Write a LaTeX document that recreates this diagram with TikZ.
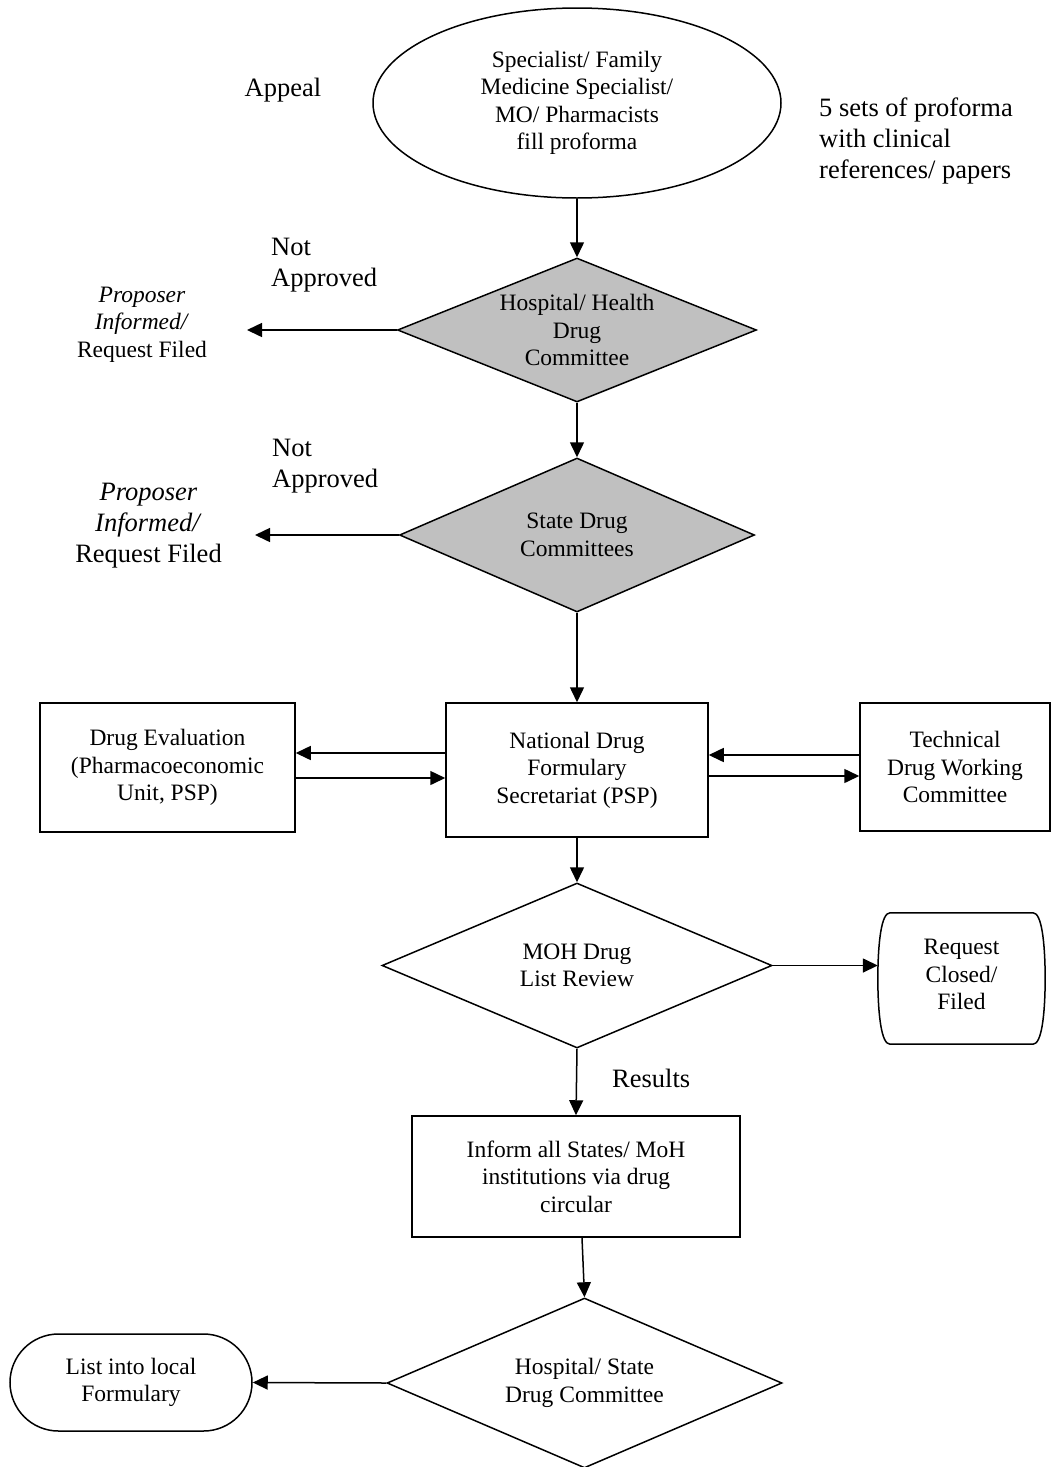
\documentclass[tikz,border=0pt]{standalone}
\usepackage{fontspec}
\setmainfont{Liberation Serif}
\usetikzlibrary{shapes.geometric,shapes.misc,arrows.meta,calc}
\definecolor{grayfill}{RGB}{192,192,192}
\begin{document}
\begin{tikzpicture}[x=1pt,y=-1pt,
  base/.style={font=\fontsize{23.5}{27.5}\selectfont, align=center, inner sep=0pt},
  big/.style={font=\fontsize{26.5}{31}\selectfont},
  ln/.style={line width=1.5pt},
  arr/.style={ln, -{Triangle[length=15pt,width=14pt]}},
  boxnode/.style={base, draw, ln, rectangle},
  dia/.style={base, draw, ln, diamond, inner sep=-30pt},
  graydia/.style={dia, fill=grayfill},
]
\useasboundingbox (0,0) rectangle (1052,1467);

% shapes
\node[base, draw, ln, ellipse, minimum width=408pt, minimum height=190pt] (ell) at (577,103)
  {Specialist/ Family\\Medicine Specialist/\\MO/ Pharmacists\\fill proforma};
\node[graydia, minimum width=359pt, minimum height=144pt] (d1) at (577,330)
  {Hospital/ Health\\Drug\\Committee};
\node[graydia, minimum width=355pt, minimum height=154pt] (d2) at (577,535)
  {State Drug\\Committees};
\node[boxnode, minimum width=262pt, minimum height=134pt] (nd) at (577,770)
  {National Drug\\Formulary\\Secretariat (PSP)};
\node[boxnode, minimum width=255pt, minimum height=129pt] (de) at (167.5,767.5)
  {Drug Evaluation\\(Pharmacoeconomic\\Unit, PSP)};
\node[boxnode, minimum width=190pt, minimum height=128pt] (tw) at (955,767)
  {Technical\\Drug Working\\Committee};
\node[dia, minimum width=390pt, minimum height=165pt] (moh) at (577,965.5)
  {MOH Drug\\List Review};
% Request Closed: rectangle with bulging sides
\node[base, rectangle, minimum width=167pt, minimum height=131pt] (rc) at (961.5,978.5)
  {\\[-20pt]Request\\Closed/\\Filed};
\draw[ln] ([xshift=-71.5pt]rc.north) -- ([xshift=71.5pt]rc.north)
  .. controls ([xshift=80pt]rc.north) and ([xshift=83.5pt,yshift=-28pt]rc.north) .. (rc.east)
  .. controls ([xshift=83.5pt,yshift=28pt]rc.south) and ([xshift=80pt]rc.south) .. ([xshift=71.5pt]rc.south)
  -- ([xshift=-71.5pt]rc.south)
  .. controls ([xshift=-80pt]rc.south) and ([xshift=-83.5pt,yshift=28pt]rc.south) .. (rc.west)
  .. controls ([xshift=-83.5pt,yshift=-28pt]rc.north) and ([xshift=-80pt]rc.north) .. cycle;
\node[boxnode, minimum width=328pt, minimum height=121pt] (inf) at (576,1176.5)
  {Inform all States/ MoH\\institutions via drug\\circular};
\node[dia, minimum width=395pt, minimum height=170pt] (d4) at (584.5,1383)
  {Hospital/ State\\Drug Committee};
\node[base, draw, ln, rounded rectangle, minimum width=242pt, minimum height=97pt] (loc) at (131,1382.5)
  {List into local\\Formulary};

% free texts
\node[base, big] (appeal) at (283,90) {Appeal};
\node[base, big, align=left, anchor=west] (sets) at (819,141)
  {5 sets of proforma\\with clinical\\references/ papers};
\node[base, big, align=left, anchor=west] (na1) at (271,265.5) {Not\\Approved};
\node[base] (pi1) at (142,324.5) {\textit{Proposer}\\\textit{Informed/}\\Request Filed};
\node[base, big, align=left, anchor=west] (na2) at (272,466.5) {Not\\Approved};
\node[base, big] (pi2) at (148.5,525.5) {\textit{Proposer}\\\textit{Informed/}\\Request Filed};
\node[base, big, anchor=west] (res) at (612,1078) {Results};

% free ends
\coordinate (e1) at (247,330);
\coordinate (e2) at (255,535);
\coordinate (nwa) at ([yshift=17pt]nd.west);
\coordinate (nwb) at ([yshift=-8pt]nd.west);
\coordinate (nea) at ([yshift=15pt]nd.east);
\coordinate (neb) at ([yshift=-6pt]nd.east);
\coordinate (infout) at ([xshift=6pt]inf.south);

% connectors
\draw[arr] (ell.south) -- (d1.north);
\draw[arr] (d1.west) -- (e1);
\draw[arr] (d1.south) -- (d2.north);
\draw[arr] (d2.west) -- (e2);
\draw[arr] (d2.south) -- (nd.north);
\draw[arr] (nwa) -- (nwa -| de.east);
\draw[arr] (nwb -| de.east) -- (nwb);
\draw[arr] (nea -| tw.west) -- (nea);
\draw[arr] (neb) -- (neb -| tw.west);
\draw[arr] (nd.south) -- (moh.north);
\draw[arr] (moh.east) -- (moh.east -| rc.west);
\draw[arr] (moh.south) -- (inf.north);
\draw[arr] (infout) -- (d4.north);
\draw[arr] (d4.west) -- (loc.east);
\end{tikzpicture}
\end{document}
